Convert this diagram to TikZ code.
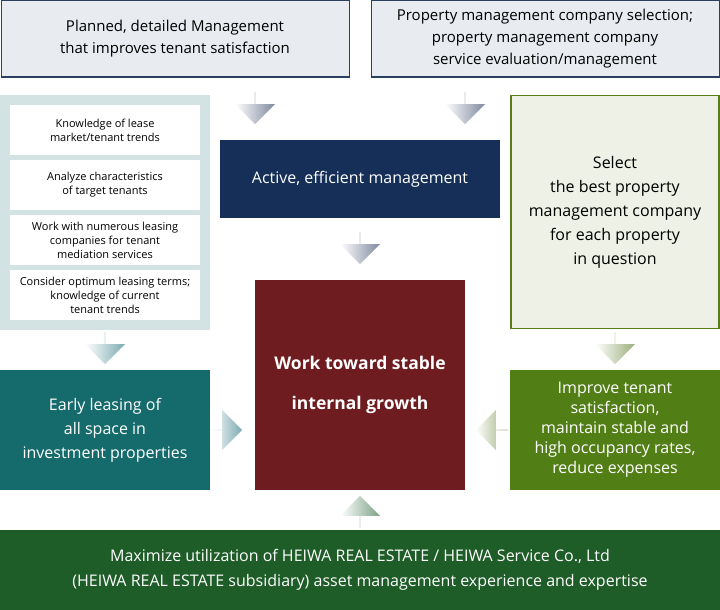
\documentclass[tikz,border=0pt]{standalone}
\usepackage{fontspec}
\setmainfont{Open Sans}
\usetikzlibrary{shapes.arrows}
\definecolor{topfill}{HTML}{E8ECF1}
\definecolor{topline}{HTML}{2B3F5E}
\definecolor{navy}{HTML}{152F58}
\definecolor{panelblue}{HTML}{D3E2E2}
\definecolor{panelgreen}{HTML}{EEF1E5}
\definecolor{olive}{HTML}{5A7E1A}
\definecolor{wine}{HTML}{6E1C1F}
\definecolor{teal}{HTML}{156B6B}
\definecolor{leafgreen}{HTML}{527E16}
\definecolor{forest}{HTML}{1E5C28}
\definecolor{arrgray}{HTML}{7E889E}
\definecolor{arrteal}{HTML}{7AAAB0}
\definecolor{arrolive}{HTML}{9CAE7C}
\definecolor{arrgreen}{HTML}{7AA084}
\tikzset{
  topbox/.style={draw=topline, line width=1pt, fill=topfill, align=center,
    minimum width=348pt, minimum height=76pt, font=\fontsize{15}{22}\selectfont},
  darkbox/.style={align=center, text=white, inner sep=0pt},
  tipbox/.style={fill=white, align=center, minimum width=190pt, minimum height=50pt,
    inner sep=1pt, font=\fontsize{11}{14}\selectfont},
  blockarrow/.style={single arrow, minimum width=40pt, minimum height=32pt,
    single arrow head extend=10pt, single arrow tip angle=90, inner sep=0pt,
    left color=white, right color=#1}
}
\begin{document}
\begin{tikzpicture}[x=1pt, y=-1pt]
  \useasboundingbox (0,0) rectangle (720,610);
  % top row
  \node[topbox] (plan) at (175,39) {Planned, detailed Management\\that improves tenant satisfaction};
  \node[topbox] (select) at (545,39) {Property management company selection;\\property management company\\service evaluation/management};

  % left panel
  \fill[panelblue] (0,95) rectangle (210,330);
  \node[tipbox] (t1) at (105,130) {Knowledge of lease\\market/tenant trends};
  \node[tipbox] (t2) at (105,185) {Analyze characteristics\\of target tenants};
  \node[tipbox] (t3) at (105,240) {Work with numerous leasing\\companies for tenant\\mediation services};
  \node[tipbox] (t4) at (105,295) {Consider optimum leasing terms;\\knowledge of current\\tenant trends};

  % right panel
  \node[draw=olive, line width=1.2pt, fill=panelgreen, minimum width=208pt, minimum height=233pt,
    align=center, font=\fontsize{16}{24}\selectfont] (best) at (615,212)
    {Select\\the best property\\management company\\for each property\\in question};

  % centre column
  \node[darkbox, fill=navy, minimum width=280pt, minimum height=78pt,
    font=\fontsize{16}{20}\selectfont] (active) at (360,179) {Active, efficient management};
  \node[darkbox, fill=wine, minimum width=210pt, minimum height=210pt,
    font=\bfseries\fontsize{17.5}{40}\selectfont] (growth) at (360,385)
    {Work toward stable\\internal growth};
  \node[darkbox, fill=teal, minimum width=210pt, minimum height=120pt,
    font=\fontsize{16}{24}\selectfont] (early) at (105,430)
    {Early leasing of\\all space in\\investment properties};
  \node[darkbox, fill=leafgreen, minimum width=210pt, minimum height=120pt,
    font=\fontsize{16}{20}\selectfont] (improve) at (615,430)
    {Improve tenant\\satisfaction,\\maintain stable and\\high occupancy rates,\\reduce expenses};
  \node[darkbox, fill=forest, minimum width=720pt, minimum height=80pt,
    font=\fontsize{16}{25}\selectfont] (maximize) at (360,570)
    {Maximize utilization of HEIWA REAL ESTATE / HEIWA Service Co., Ltd\\(HEIWA REAL ESTATE subsidiary) asset management experience and expertise};

  % arrows
  \node[blockarrow=arrgray, rotate=-90] (a1) at (255,108) {};
  \node[blockarrow=arrgray, rotate=-90] (a2) at (465,108) {};
  \node[blockarrow=arrgray, rotate=-90] (a3) at (360,248) {};
  \node[blockarrow=arrteal, rotate=-90] (a4) at (105,348) {};
  \node[blockarrow=arrolive, rotate=-90] (a5) at (615,348) {};
  \node[blockarrow=arrteal] (a6) at (226,430) {};
  \node[blockarrow=arrolive, rotate=180] (a7) at (492,430) {};
  \node[blockarrow=arrgreen, rotate=90] (a8) at (360,512) {};
\end{tikzpicture}
\end{document}
